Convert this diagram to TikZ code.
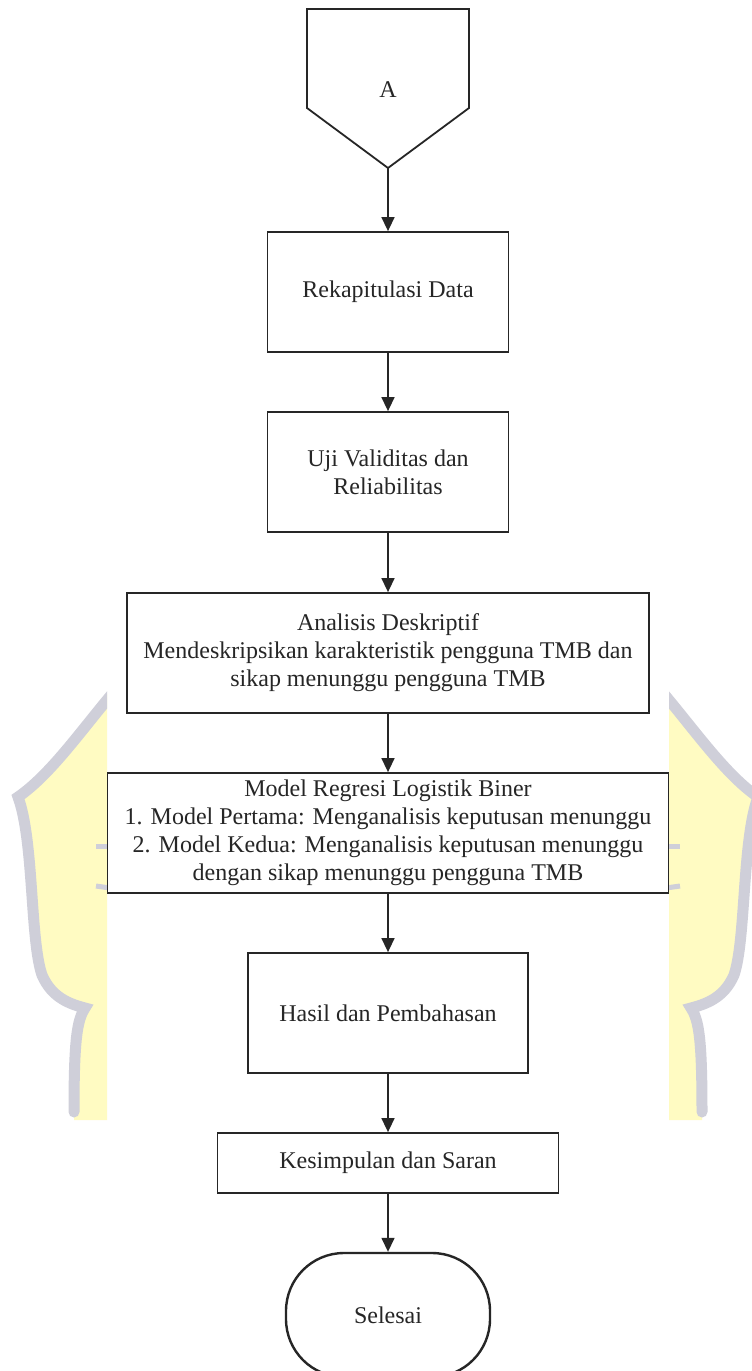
\documentclass[tikz,border=0pt]{standalone}
\usepackage{fontspec}
\setmainfont{Liberation Serif}
\usetikzlibrary{arrows.meta,calc}
\definecolor{wmyellow}{RGB}{255,251,194}
\definecolor{wmgray}{RGB}{207,207,217}
\definecolor{ink}{RGB}{38,38,38}
\tikzset{
  procbox/.style={draw=ink, line width=1.8pt, fill=white, inner sep=0pt, align=center,
    text=ink, font=\fontsize{24}{28}\selectfont},
  termbox/.style={procbox, rounded corners=58pt, line width=2.4pt},
  flowarrow/.style={draw=ink, line width=1.5pt, -{Triangle[length=14pt,width=13pt]}},
  wmfill/.style={fill=wmyellow},
  wmline/.style={draw=wmgray, line width=11pt, line cap=round},
  wmdash/.style={draw=wmgray, line width=5pt},
}
\newcommand{\mywmhalf}{%
  \begin{scope}
    \clip (0,0) rectangle (107,1371);
    \fill[wmfill] (130,692) -- (107,694) .. controls (80,732) and (50,775) .. (18,797)
      .. controls (34,840) and (30,940) .. (42,975) .. controls (52,998) and (70,1004) .. (85,1008)
      .. controls (77,1020) and (74,1040) .. (74,1120) -- (130,1120) -- cycle;
    \draw[wmline] (112,694) .. controls (80,732) and (50,775) .. (18,797)
      .. controls (34,840) and (30,940) .. (42,975) .. controls (52,998) and (70,1004) .. (85,1008)
      .. controls (77,1020) and (74,1040) .. (74,1112);
    \draw[wmdash] (96,846) -- (110,846);
    \draw[wmdash] (96,886) -- (110,888);
  \end{scope}}
\begin{document}
\begin{tikzpicture}[x=1pt,y=-1pt]
  \useasboundingbox (0,0) rectangle (752,1371);
  \fill[white] (0,0) rectangle (752,1371);
  % watermark remnants at both sides
  \mywmhalf
  \begin{scope}[xshift=776pt, xscale=-1]
    \mywmhalf
  \end{scope}

  % off-page connector
  \draw[draw=ink, line width=1.8pt, fill=white] (307,9) -- (469,9) -- (469,108) -- (388,168) -- (307,108) -- cycle;
  \node[text=ink, font=\fontsize{24}{28}\selectfont] (lblA) at (388,90) {A};
  \coordinate (Atip) at (388,168);

  \node[procbox, minimum width=241pt, minimum height=120pt] (rekap) at (388,292) {Rekapitulasi Data};
  \node[procbox, minimum width=241pt, minimum height=120pt] (uji) at (388,472) {Uji Validitas dan\\Reliabilitas};
  \node[procbox, minimum width=522pt, minimum height=120pt] (anal) at (388,653)
    {Analisis Deskriptif\\Mendeskripsikan karakteristik pengguna TMB dan\\sikap menunggu pengguna TMB};
  \node[procbox, minimum width=561pt, minimum height=120pt] (model) at (388,833)
    {Model Regresi Logistik Biner\\1. Model Pertama: Menganalisis keputusan menunggu\\2. Model Kedua: Menganalisis keputusan menunggu\\dengan sikap menunggu pengguna TMB};
  \node[procbox, minimum width=280pt, minimum height=120pt] (hasil) at (388,1013) {Hasil dan Pembahasan};
  \node[procbox, minimum width=341pt, minimum height=60pt] (kesim) at (388,1163) {Kesimpulan dan Saran};
  \node[termbox, minimum width=204pt, minimum height=124pt] (selesai) at (388,1315) {Selesai};

  \draw[flowarrow] (Atip) -- (rekap.north);
  \draw[flowarrow] (rekap.south) -- (uji.north);
  \draw[flowarrow] (uji.south) -- (anal.north);
  \draw[flowarrow] (anal.south) -- (model.north);
  \draw[flowarrow] (model.south) -- (hasil.north);
  \draw[flowarrow] (hasil.south) -- (kesim.north);
  \draw[flowarrow] (kesim.south) -- (selesai.north);
\end{tikzpicture}
\end{document}
